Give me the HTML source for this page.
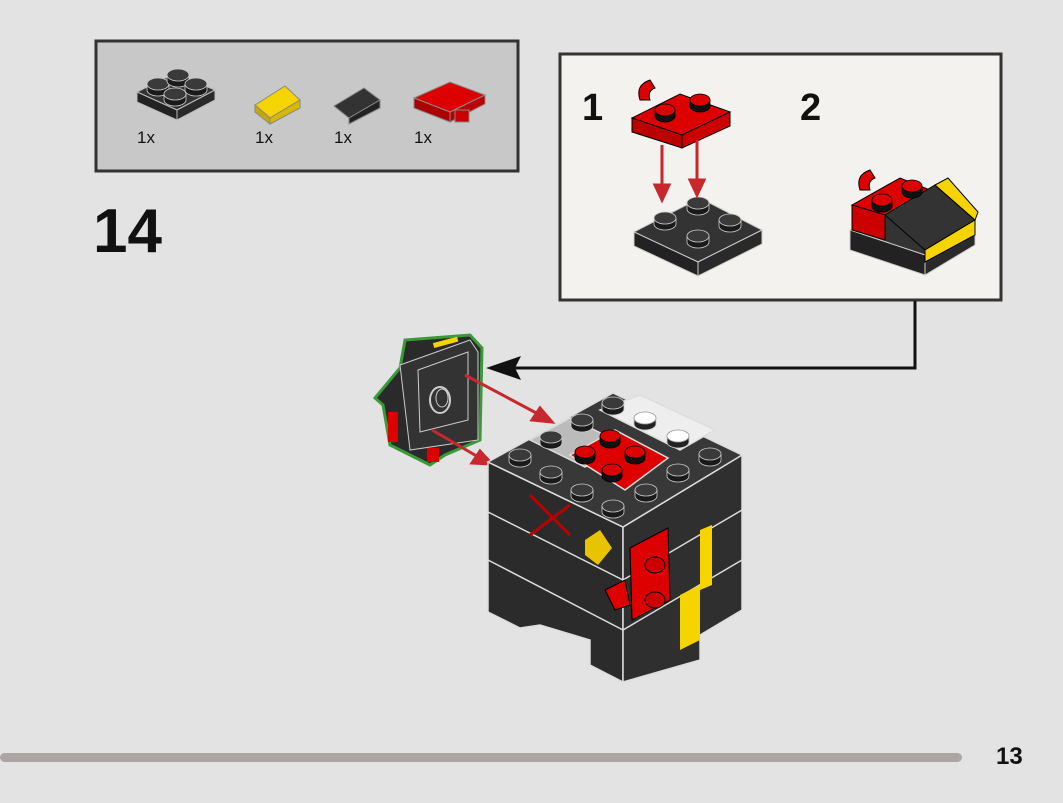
<!DOCTYPE html>
<html><head><meta charset="utf-8"><style>
html,body{margin:0;padding:0;background:#e3e3e3;width:1063px;height:803px;overflow:hidden;font-family:"Liberation Sans",sans-serif}
</style></head><body>
<svg width="1063" height="803" viewBox="0 0 1063 803" xmlns="http://www.w3.org/2000/svg" xmlns:xlink="http://www.w3.org/1999/xlink" font-family="Liberation Sans, sans-serif">
<defs>
<g id="sd"><path d="M-11,0 v6 a11,6 0 0 0 22,0 v-6z" fill="#1a1a1a" stroke="#ccc" stroke-width="0.8"/><ellipse cx="0" cy="0" rx="11" ry="6" fill="#3a3a3a" stroke="#ccc" stroke-width="0.8"/></g>
<g id="sw"><path d="M-11,0 v6 a11,6 0 0 0 22,0 v-6z" fill="#222" stroke="#ccc" stroke-width="0.8"/><ellipse cx="0" cy="0" rx="11" ry="6" fill="#fff" stroke="#999" stroke-width="0.8"/></g>
<g id="sr"><path d="M-10,0 v6 a10,6 0 0 0 20,0 v-6z" fill="#111" stroke="#000" stroke-width="0.8"/><ellipse cx="0" cy="0" rx="10" ry="6" fill="#d00" stroke="#000" stroke-width="0.8"/></g>
</defs>
<rect width="1063" height="803" fill="#e3e3e3"/>
<!-- parts box -->
<rect x="96" y="41" width="422" height="130" fill="#c8c8c8" stroke="#333" stroke-width="3"/>
<g stroke="#bbb" stroke-width="1">
<polygon points="137,92 175,73 215,90 177,110" fill="#333"/>
<polygon points="137,92 177,110 177,120 137,102" fill="#222"/>
<polygon points="177,110 215,90 215,100 177,120" fill="#2a2a2a"/>
</g>
<use xlink:href="#sd" x="158" y="84"/><use xlink:href="#sd" x="178" y="75"/><use xlink:href="#sd" x="175" y="94"/><use xlink:href="#sd" x="196" y="84"/>
<g stroke="#888" stroke-width="1">
<polygon points="255,105 285,86 300,100 270,118" fill="#f5d400"/><polygon points="270,118 300,100 300,108 270,124" fill="#d9b800"/><polygon points="255,105 270,118 270,124 255,112" fill="#c9a800"/>
<polygon points="334,106 364,88 380,100 349,118" fill="#333"/><polygon points="349,118 380,100 380,108 349,124" fill="#222"/>
<polygon points="414,98 450,82 485,95 450,112" fill="#d00"/><polygon points="414,98 450,112 450,122 414,108" fill="#a00"/>
<polygon points="450,112 485,95 485,104 450,122" fill="#b00"/>
<rect x="455" y="110" width="14" height="12" fill="#c00"/>
</g>
<g font-size="17" fill="#111"><text x="137" y="143">1x</text><text x="255" y="143">1x</text><text x="334" y="143">1x</text><text x="414" y="143">1x</text></g>
<text x="93" y="252" font-size="62" font-weight="bold" fill="#111">14</text>
<!-- sub-step box -->
<rect x="560" y="54" width="441" height="246" fill="#f3f2ee" stroke="#333" stroke-width="3"/>
<text x="582" y="120" font-size="38" font-weight="bold" fill="#111">1</text>
<text x="800" y="120" font-size="38" font-weight="bold" fill="#111">2</text>
<g stroke="#ccc" stroke-width="1">
<polygon points="634,232 700,198 762,230 698,262" fill="#333"/>
<polygon points="634,232 698,262 698,276 634,246" fill="#222"/>
<polygon points="698,262 762,230 762,244 698,276" fill="#2a2a2a"/>
</g>
<use xlink:href="#sd" x="665" y="218"/><use xlink:href="#sd" x="698" y="203"/><use xlink:href="#sd" x="698" y="236"/><use xlink:href="#sd" x="730" y="220"/>
<g stroke="#000" stroke-width="1">
<polygon points="632,118 680,94 730,112 682,135" fill="#d00"/>
<polygon points="632,118 682,135 682,148 632,132" fill="#b00"/><polygon points="682,135 730,112 730,126 682,148" fill="#c00"/>
<path d="M640,100 q-5,-15 10,-20 l5,8 q-8,3 -5,12z" fill="#d00"/>
</g>
<use xlink:href="#sr" x="665" y="110"/><use xlink:href="#sr" x="700" y="100"/>
<g stroke="#ccc" stroke-width="1">
<polygon points="850,230 900,203 975,225 925,255" fill="#333"/>
<polygon points="850,230 925,255 925,275 850,250" fill="#222"/>
<polygon points="925,255 975,225 975,245 925,275" fill="#2a2a2a"/>
</g>
<g stroke="#000" stroke-width="1">
<polygon points="852,205 900,178 930,190 885,215" fill="#d00"/>
<polygon points="852,205 885,215 885,240 852,230" fill="#c00"/>
<polygon points="885,215 935,185 975,220 925,250" fill="#333"/>
<polygon points="935,185 948,178 978,212 975,220" fill="#f5d400"/>
<polygon points="925,250 975,220 975,235 925,262" fill="#f5d400"/>
<path d="M860,190 q-5,-15 10,-20 l5,8 q-8,3 -5,12z" fill="#d00"/>
</g>
<use xlink:href="#sr" x="882" y="200"/><use xlink:href="#sr" x="912" y="186"/>
<g stroke="#c8282d" stroke-width="3" fill="#c8282d">
<line x1="662" y1="145" x2="662" y2="190"/><polygon points="655,185 669,185 662,200"/>
<line x1="697" y1="140" x2="697" y2="185"/><polygon points="690,180 704,180 697,195"/>
</g>
<!-- connector -->
<polyline points="915,301 915,368 515,368" fill="none" stroke="#111" stroke-width="3"/>
<polygon points="486,368 521,356 515,368 521,380" fill="#111"/>
<!-- small submodel -->
<polygon points="375,398 400,368 405,340 470,335 482,348 480,440 445,455 430,465 390,445 383,405" fill="#2a2a2a" stroke="#3a9a3a" stroke-width="3"/>
<polygon points="400,365 470,340 478,352 478,440 410,450" fill="#333" stroke="#ccc" stroke-width="1"/>
<polygon points="418,370 468,352 468,420 420,432" fill="none" stroke="#ccc"/>
<ellipse cx="440" cy="400" rx="10" ry="13" fill="none" stroke="#ccc" stroke-width="2"/>
<ellipse cx="442" cy="398" rx="6" ry="9" fill="none" stroke="#ccc" stroke-width="1"/>
<rect x="388" y="412" width="10" height="30" fill="#d00"/>
<rect x="427" y="448" width="12" height="14" fill="#d00"/>
<rect x="433" y="340" width="25" height="5" fill="#f5d400" transform="rotate(-15 445 342)"/>
<g stroke="#c8282d" stroke-width="3" fill="#c8282d">
<line x1="465" y1="375" x2="540" y2="415"/><polygon points="552,422 532,420 540,408"/>
<line x1="432" y1="430" x2="480" y2="458"/><polygon points="492,464 472,463 480,451"/>
</g>
<!-- main model -->
<g stroke="#ddd" stroke-width="1.5">
<polygon points="488,462 623,527 623,682 590,665 590,640 540,625 520,628 488,612" fill="#2b2b2b"/>
<polygon points="623,527 742,455 742,610 700,635 700,660 623,682" fill="#2f2f2f"/>
<polygon points="488,462 613,393 742,455 623,527" fill="#383838"/>
<polygon points="530,440 570,418 625,445 585,467" fill="#bbb"/>
<polygon points="600,410 640,395 715,430 680,450" fill="#eee"/>
<polygon points="570,455 615,430 668,458 625,490" fill="#d00"/>
<line x1="488" y1="512" x2="623" y2="580"/><line x1="488" y1="560" x2="623" y2="630"/>
<line x1="623" y1="580" x2="742" y2="510"/><line x1="623" y1="630" x2="742" y2="560"/>
</g>
<use xlink:href="#sd" x="613" y="403"/><use xlink:href="#sd" x="582" y="420"/><use xlink:href="#sw" x="645" y="418"/>
<use xlink:href="#sd" x="551" y="437"/><use xlink:href="#sw" x="678" y="436"/>
<use xlink:href="#sd" x="520" y="455"/><use xlink:href="#sr" x="610" y="436"/><use xlink:href="#sd" x="710" y="454"/>
<use xlink:href="#sd" x="551" y="472"/><use xlink:href="#sr" x="585" y="452"/><use xlink:href="#sr" x="635" y="452"/><use xlink:href="#sd" x="678" y="470"/>
<use xlink:href="#sd" x="582" y="490"/><use xlink:href="#sr" x="612" y="470"/><use xlink:href="#sd" x="646" y="490"/>
<use xlink:href="#sd" x="613" y="506"/>
<polygon points="680,595 700,585 700,640 680,650" fill="#f5d400"/>
<polygon points="700,530 712,525 712,585 700,590" fill="#f5d400"/>
<polygon points="630,548 668,528 670,600 632,620" fill="#d00" stroke="#000"/>
<ellipse cx="655" cy="565" rx="10" ry="8" fill="#c00" stroke="#000"/><ellipse cx="655" cy="600" rx="10" ry="8" fill="#c00" stroke="#000"/>
<path d="M605,590 l20,-10 l5,25 l-15,5z" fill="#d00" stroke="#000"/>
<path d="M530,495 l40,40 M530,535 l40,-30" stroke="#b00" stroke-width="3"/>
<polygon points="585,540 600,530 612,548 598,565 585,555" fill="#e8c300"/>
<!-- bottom bar -->
<rect x="0" y="753" width="962" height="9" rx="4.5" fill="#aba5a3"/>
<text x="996" y="764" font-size="24" font-weight="bold" fill="#111">13</text>
</svg>
</body></html>
